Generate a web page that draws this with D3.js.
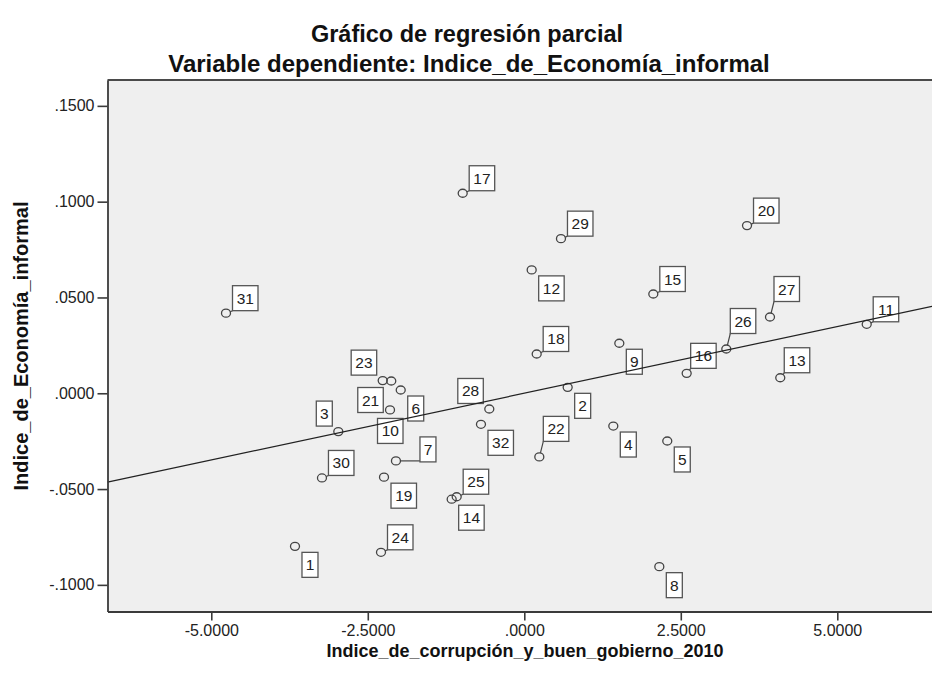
<!DOCTYPE html>
<html>
<head>
<meta charset="utf-8">
<script src="https://cdnjs.cloudflare.com/ajax/libs/d3/7.8.5/d3.min.js"></script>
<style>
  body { margin: 0; background: #fff; }
  text { font-family: "Liberation Sans", Arial, sans-serif; }
</style>
</head>
<body>
<div id="chart"></div>
<script>
// case numbers and partial residuals
const caseIds = [1, 2, 3, 4, 5, 6, 7, 8, 9, 10, 11, 12, 13, 14, 15, 16,
                 17, 18, 19, 20, 21, 22, 23, 24, 25, 26, 27, 28, 29, 30, 31, 32];
const xValues = [-3.663, 0.693, -2.971, 1.422, 2.284, -1.974, -2.050, 2.157,
                 1.518, -2.145, 5.470, 0.118, 4.089, -1.160, 2.061, 2.594,
                 -0.984, 0.198, -2.241, 3.558, -2.125, 0.240, -2.262, -2.289,
                 -1.080, 3.227, 3.925, -0.559, 0.586, -3.232, -4.765, -0.692];
const yValues = [-0.0799, 0.0031, -0.0200, -0.0171, -0.0249, 0.0017, -0.0353, -0.0905,
                 0.0261, -0.0087, 0.0360, 0.0644, 0.0081, -0.0553, 0.0518, 0.0104,
                 0.1044, 0.0205, -0.0438, 0.0875, 0.0064, -0.0332, 0.0066, -0.0830,
                 -0.0540, 0.0231, 0.0398, -0.0082, 0.0807, -0.0442, 0.0418, -0.0162];
// where each case label sits relative to its point
const labelSpots = ["lr", "lr", "ul", "lr", "lr", "lr", "r2", "lr",
                    "lr", "b", "ur", "lr", "ur1", "lr", "ur", "ur1",
                    "ur", "ur", "lr", "ur", "ll", "ur2", "ul", "ur",
                    "ur", "ur2", "ur2", "ul", "ur", "ur", "ur", "lr"];

const xTicks = [-5, -2.5, 0, 2.5, 5];
const yTicks = [0.15, 0.10, 0.05, 0, -0.05, -0.10];
const xDomain = [-6.658, 6.513];
const yDomain = [-0.1139, 0.1635];

// fitted line of the partial regression (goes through the origin)
const fitSlope = 0.00696;
const fitIntercept = 0;

const W = 932, H = 676;
const plotL = 107.5, plotR = 932, plotT = 80, plotB = 611.5;

const svg = d3.select("#chart").append("svg")
    .attr("width", W).attr("height", H);

const x = d3.scaleLinear().domain(xDomain).range([plotL, plotR]);
const y = d3.scaleLinear().domain(yDomain).range([plotB, plotT]);

// spss style numbers: .1500, -.0500, 5.0000 (plain hyphen, no leading zero)
const fmt4 = d3.formatLocale({ decimal: ".", thousands: ",", grouping: [3], currency: ["", ""], minus: "-" }).format(".4f");
const fmt = v => fmt4(v).replace(/^(-?)0\./, "$1.");

// plot background
svg.append("rect")
    .attr("x", plotL).attr("y", plotT)
    .attr("width", plotR - plotL).attr("height", plotB - plotT)
    .attr("fill", "#efefef");

// titles
svg.append("text")
    .attr("x", 467).attr("y", 42)
    .attr("text-anchor", "middle")
    .style("font-size", "23.5px").style("font-weight", "bold").style("fill", "#111")
    .text("Gráfico de regresión parcial");
svg.append("text")
    .attr("x", 469).attr("y", 72)
    .attr("text-anchor", "middle")
    .style("font-size", "24px").style("font-weight", "bold").style("fill", "#111")
    .text("Variable dependiente: Indice_de_Economía_informal");

// points with their case labels
let pts = caseIds.map((id, i) => ({ id: id, x: xValues[i], y: yValues[i], spot: labelSpots[i] }));

const boxH = 25;
function boxW(d) { return String(d.id).length === 1 ? 16 : 25.5; }
function boxPos(d) {
    let w = boxW(d);
    switch (d.spot) {
        case "lr": return [7, 6];
        case "ur": return [6.5, -27.5];
        case "ur1": return [4, -30];
        case "ur2": return [4, -40.5];
        case "ul": return [-w - 6, -30.5];
        case "ll": return [-w - 8, 6.5];
        case "r2": return [24, -24];
        case "b": return [-12.5, 8.5];
    }
    return [7, 6];
}

let g = svg.append("g");
const r = 4.5;

pts.forEach(d => {
    let cx = x(d.x), cy = y(d.y);
    let off = boxPos(d);
    let bx = cx + off[0], by = cy + off[1], bw = boxW(d);

    // leader line for labels that sit away from the point
    if (d.spot.startsWith("ur") || d.spot === "r2") {
        let nx = Math.max(bx, Math.min(cx, bx + bw));
        let ny = Math.max(by, Math.min(cy, by + boxH));
        let dx = nx - cx, dy = ny - cy;
        let len = Math.sqrt(dx * dx + dy * dy);
        if (len > r) {
            g.append("line")
                .attr("x1", cx + dx / len * r).attr("y1", cy + dy / len * r * 0.9)
                .attr("x2", nx).attr("y2", ny)
                .attr("stroke", "#444").attr("stroke-width", 1.2);
        }
    }

    g.append("ellipse")
        .attr("cx", cx).attr("cy", cy)
        .attr("rx", r).attr("ry", 4)
        .attr("fill", "none")
        .attr("stroke", "#444").attr("stroke-width", 1.3);

    g.append("rect")
        .attr("x", bx).attr("y", by)
        .attr("width", bw).attr("height", boxH)
        .attr("fill", "#fff")
        .attr("stroke", "#555").attr("stroke-width", 1.3);

    g.append("text")
        .attr("x", bx + bw / 2).attr("y", by + boxH / 2 + 5.5)
        .attr("text-anchor", "middle")
        .style("font-size", "15.5px").style("fill", "#222")
        .text(d.id);
});

// regression line, drawn over the labels
svg.append("line")
    .attr("x1", x(xDomain[0])).attr("y1", y(fitIntercept + fitSlope * xDomain[0]))
    .attr("x2", x(xDomain[1])).attr("y2", y(fitIntercept + fitSlope * xDomain[1]))
    .attr("stroke", "#222").attr("stroke-width", 1.2);

// frame top
svg.append("line")
    .attr("x1", plotL).attr("x2", plotR)
    .attr("y1", plotT).attr("y2", plotT)
    .attr("stroke", "#4a4a4a").attr("stroke-width", 1.8);

// axes
let yAxis = svg.append("g")
    .attr("transform", `translate(${plotL},0)`)
    .call(d3.axisLeft(y).tickValues(yTicks).tickFormat(fmt)
        .tickSize(10).tickSizeOuter(0).tickPadding(3));

let xAxis = svg.append("g")
    .attr("transform", `translate(0,${plotB})`)
    .call(d3.axisBottom(x).tickValues(xTicks).tickFormat(fmt)
        .tickSize(9).tickSizeOuter(0).tickPadding(4));

[xAxis, yAxis].forEach(a => {
    a.select(".domain").attr("stroke", "#3a3a3a").attr("stroke-width", 1.8);
    a.selectAll(".tick line").attr("stroke", "#3a3a3a").attr("stroke-width", 1.6);
    a.selectAll(".tick text")
        .style("font-family", "'Liberation Sans', Arial, sans-serif")
        .style("font-size", "16px").style("fill", "#222");
});

// axis titles
svg.append("text")
    .attr("x", 525).attr("y", 657)
    .attr("text-anchor", "middle")
    .style("font-size", "18px").style("font-weight", "bold").style("fill", "#111")
    .text("Indice_de_corrupción_y_buen_gobierno_2010");

svg.append("text")
    .attr("transform", "translate(28,346) rotate(-90)")
    .attr("text-anchor", "middle")
    .style("font-size", "20px").style("font-weight", "bold").style("fill", "#111")
    .text("Indice_de_Economía_informal");
</script>
</body>
</html>
